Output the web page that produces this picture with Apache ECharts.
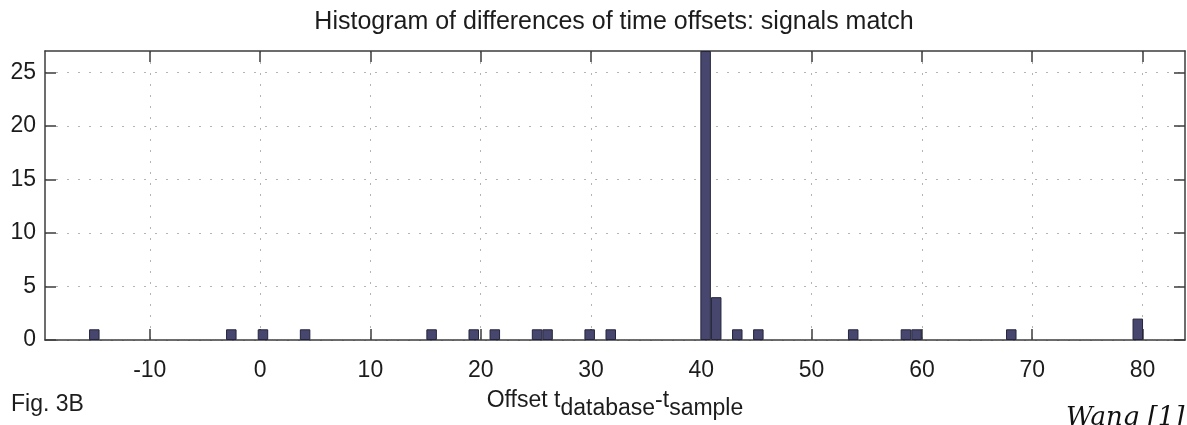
<!DOCTYPE html>
<html>
<head>
<meta charset="utf-8">
<script src="https://cdn.jsdelivr.net/npm/echarts@6/dist/echarts.min.js"></script>
<style>
  html, body { margin: 0; padding: 0; background: #ffffff; }
  #chart { width: 1187px; height: 425px; }
</style>
</head>
<body>
<div id="chart"></div>
<script>
// Histogram bins (centres) and their counts
const binCenters = [-15.03, -2.61, 0.26, 4.08, 15.55, 19.37, 21.28, 25.11, 26.06, 29.88,
                    31.79, 40.39, 41.35, 43.26, 45.17, 53.77, 58.55, 59.51, 68.10, 79.57];
const counts = [1, 1, 1, 1, 1, 1, 1, 1, 1, 1,
                1, 27, 4, 1, 1, 1, 1, 1, 1, 2];

// Axis ticks and limits
const xTickValues = [-10, 0, 10, 20, 30, 40, 50, 60, 70, 80];
const yTickValues = [0, 5, 10, 15, 20, 25];
const xLimits = [-19.5, 83.85];
const yLimits = [0, 27];

const titleText = 'Histogram of differences of time offsets: signals match';
const figLabel = 'Fig. 3B';
const creditText = 'Wang [1]';

const FONT = '"Liberation Sans", Arial, Helvetica, sans-serif';
const AXIS_COLOR = '#3c3c3c';
const TEXT_COLOR = '#1c1c1c';

const chart = echarts.init(document.getElementById('chart'), null, { renderer: 'canvas' });

const lineStyle = { color: AXIS_COLOR, width: 1.5 };

function xAxisDef(position, withLabels) {
  return {
    type: 'value',
    position: position,
    min: xLimits[0],
    max: xLimits[1],
    axisLine: { show: true, onZero: false, lineStyle: lineStyle },
    axisTick: { show: true, inside: true, length: 11, customValues: xTickValues, lineStyle: lineStyle },
    axisLabel: withLabels ? {
      show: true, customValues: xTickValues, fontSize: 23, fontFamily: FONT,
      color: TEXT_COLOR, margin: 19
    } : { show: false },
    splitLine: withLabels ? {
      show: true, lineStyle: { type: [2, 9], color: '#b4b4b4', width: 1 }
    } : { show: false }
  };
}

function yAxisDef(position, withLabels) {
  return {
    type: 'value',
    position: position,
    min: yLimits[0],
    max: yLimits[1],
    axisLine: { show: true, onZero: false, lineStyle: lineStyle },
    axisTick: { show: true, inside: true, length: 11, customValues: yTickValues, lineStyle: lineStyle },
    axisLabel: withLabels ? {
      show: true, customValues: yTickValues, fontSize: 23, fontFamily: FONT,
      color: TEXT_COLOR, margin: 9
    } : { show: false },
    splitLine: withLabels ? {
      show: true, lineStyle: { type: [2, 9], color: '#b4b4b4', width: 1 }
    } : { show: false }
  };
}

const bottomAxis = xAxisDef('bottom', true);
bottomAxis.name = '{n|Offset t}{s|database}{n|-t}{s|sample}';
bottomAxis.nameLocation = 'middle';
bottomAxis.nameGap = 49;
bottomAxis.nameTextStyle = {
  rich: {
    n: { fontSize: 23, fontFamily: FONT, color: TEXT_COLOR, lineHeight: 31, verticalAlign: 'top' },
    s: { fontSize: 23, fontFamily: FONT, color: TEXT_COLOR, lineHeight: 31, verticalAlign: 'bottom' }
  }
};

chart.setOption({
  backgroundColor: '#ffffff',
  animation: false,
  grid: { left: 45, right: 2, top: 51, bottom: 77, containLabel: false },
  xAxis: [bottomAxis, xAxisDef('top', false)],
  yAxis: [yAxisDef('left', true), yAxisDef('right', false)],
  series: [{
    type: 'bar',
    xAxisIndex: 0,
    yAxisIndex: 0,
    barWidth: 10.5,
    data: binCenters.map((c, i) => [c, counts[i]]),
    itemStyle: { color: '#47466f', borderColor: '#24243a', borderWidth: 1 },
    emphasis: { disabled: true }
  }],
  graphic: [
    {
      type: 'text', x: 614, y: 22,
      style: { text: titleText, font: '25px ' + FONT, fill: TEXT_COLOR, align: 'center', verticalAlign: 'middle' }
    },
    {
      type: 'text', x: 11, y: 405,
      style: { text: figLabel, font: '23px ' + FONT, fill: TEXT_COLOR, align: 'left', verticalAlign: 'middle' }
    },
    {
      type: 'text', x: 1066, y: 405,
      style: { text: creditText, font: 'italic 26px "DejaVu Serif", serif', fill: '#111111', align: 'left', verticalAlign: 'top' }
    }
  ]
});
</script>
</body>
</html>
